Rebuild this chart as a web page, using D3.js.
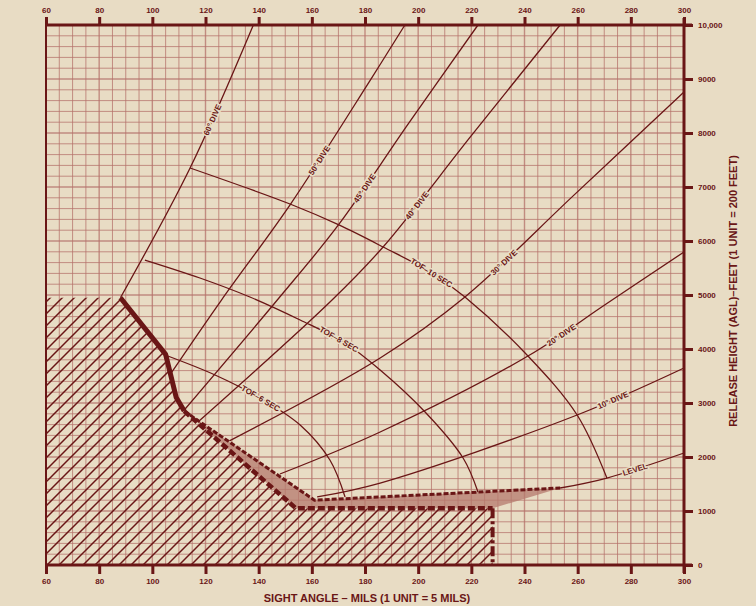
<!DOCTYPE html>
<html>
<head>
<meta charset="utf-8">
<script src="https://cdn.jsdelivr.net/npm/d3@7"></script>
<style>
  body { margin: 0; background: #e8dcc4; }
  svg { display: block; }
  text { font-family: "Liberation Sans", "DejaVu Sans", sans-serif; font-weight: bold; fill: #6a1616; }
</style>
</head>
<body>
<div id="chart"></div>
<script>
// sight angle (mils) / release height (feet)
var xTicks = [60, 80, 100, 120, 140, 160, 180, 200, 220, 240, 260, 280, 300];
var yTicks = [0, 1000, 2000, 3000, 4000, 5000, 6000, 7000, 8000, 9000, 10000];

var dive60 = [[88, 4950], [114.2, 7352], [138, 10000]];
var dive50 = [[106.6, 3520], [126, 4907], [152, 6685], [182, 8980], [195, 10000]];
var dive45 = [[112, 2870], [147, 4907], [170, 6297], [196, 8150], [222.5, 10000]];
var dive40 = [[118, 2685], [167.6, 4907], [186.8, 5889], [220, 7950], [253.4, 10000]];
var dive30 = [[129, 2300], [185.7, 3833], [217.6, 4963], [258.6, 6850], [300, 8760]];
var dive20 = [[148, 1685], [185.7, 2463], [241.3, 3870], [270.7, 4833], [300, 5797]];
var dive10 = [[162, 1260], [185.7, 1518], [259.8, 2778], [300, 3648]];
var level = [[253.4, 1426], [271, 1611], [300, 2074]];

var tof10 = [[114.2, 7352], [151.8, 6685], [170.2, 6297], [186.8, 5889], [204.5, 5426],
             [217.6, 4963], [241.3, 3870], [259.8, 2778], [271, 1611]];
var tof8 = [[97.2, 5648], [117.9, 5315], [136.7, 4963], [155.6, 4537], [172.5, 4111],
            [185.7, 3611], [202.6, 2833], [216.9, 1981], [222.5, 1352]];
var tof6 = [[104.8, 3889], [123.6, 3519], [140.5, 3093], [155.6, 2593], [166.8, 1944], [172.5, 1259]];

var minBoundary = [[88, 4950], [105, 3900], [109, 3100], [112, 2850]];
var bandUpper = [[112, 2850], [161, 1200], [253.4, 1426]];
var bandLower = [[112, 2850], [154, 1050], [228, 1050], [253.4, 1426]];
var hatchArea = [[60, 4950], [88, 4950], [105, 3900], [109, 3100], [112, 2850],
                 [154, 1050], [228, 1050], [228, 0], [60, 0]];

var diveNames = ["60° DIVE", "50° DIVE", "45° DIVE", "40° DIVE", "30° DIVE", "20° DIVE", "10° DIVE", "LEVEL"];
var tofNames = ["TOF–10 SEC", "TOF–8 SEC", "TOF–6 SEC"];

function init() {
    var width = 756;
    var height = 606;
    var ink = "#6a1616";
    var paper = "#e8dcc4";

    var x = d3.scaleLinear().domain([60, 300]).range([46, 684]);
    var y = d3.scaleLinear().domain([0, 10000]).range([565, 25]);

    var svg = d3.select("#chart")
        .append("svg")
        .attr("width", width)
        .attr("height", height);

    var defs = svg.append("defs");
    var pat = defs.append("pattern")
        .attr("id", "hatch")
        .attr("patternUnits", "userSpaceOnUse")
        .attr("width", 12)
        .attr("height", 12);
    pat.append("path")
        .attr("d", "M-3,3 L3,-3 M0,12 L12,0 M9,15 L15,9")
        .attr("stroke", ink)
        .attr("stroke-width", 1.5);

    // grid
    var grid = svg.append("g");
    grid.selectAll("line.v")
        .data(d3.range(60, 301, 5))
        .enter()
        .append("line")
        .attr("x1", d => x(d)).attr("x2", d => x(d))
        .attr("y1", y(0)).attr("y2", y(10000))
        .attr("stroke", "#b5716a")
        .attr("stroke-width", d => d % 20 === 0 ? 1.4 : 1)
        .attr("opacity", 0.75);
    grid.selectAll("line.h")
        .data(d3.range(0, 10001, 200))
        .enter()
        .append("line")
        .attr("y1", d => y(d)).attr("y2", d => y(d))
        .attr("x1", x(60)).attr("x2", x(300))
        .attr("stroke", "#b5716a")
        .attr("stroke-width", d => d % 1000 === 0 ? 1.4 : 1)
        .attr("opacity", 0.75);

    var line = d3.line().x(d => x(d[0])).y(d => y(d[1]));
    var curve = d3.line().x(d => x(d[0])).y(d => y(d[1])).curve(d3.curveCatmullRom.alpha(0.5));

    // hatched region below minimum release
    svg.append("path")
        .attr("d", line(hatchArea) + "Z")
        .attr("fill", "url(#hatch)");

    // shaded band
    svg.append("path")
        .attr("d", line(bandUpper.concat(bandLower.slice().reverse())) + "Z")
        .attr("fill", "#b67a6e")
        .attr("opacity", 0.75);

    // dive and tof curves
    var dives = [dive60, dive50, dive45, dive40, dive30, dive20, dive10, level];
    var tofs = [tof10, tof8, tof6];
    var diveT = [0.66, 0.62, 0.59, 0.57, 0.57, 0.68, 0.8, 0.6];
    var tofT = [0.49, 0.5, 0.44];

    var curves = svg.append("g");
    function drawCurve(pts, name, t) {
        var p = curves.append("path")
            .attr("d", curve(pts))
            .attr("fill", "none")
            .attr("stroke", ink)
            .attr("stroke-width", 1.3);
        var node = p.node();
        var len = node.getTotalLength();
        var a = node.getPointAtLength(len * t);
        var b = node.getPointAtLength(Math.min(len, len * t + 2));
        var c = node.getPointAtLength(Math.max(0, len * t - 2));
        var ang = Math.atan2(b.y - c.y, b.x - c.x) * 180 / Math.PI;
        if (ang > 90) ang -= 180;
        if (ang < -90) ang += 180;
        svg.append("text")
            .attr("transform", "translate(" + a.x + "," + a.y + ") rotate(" + ang + ")")
            .attr("text-anchor", "middle")
            .attr("dy", "0.35em")
            .attr("font-size", 8)
            .attr("stroke", paper)
            .attr("stroke-width", 3)
            .attr("paint-order", "stroke")
            .text(name);
    }
    dives.forEach((d, i) => drawCurve(d, diveNames[i], diveT[i]));
    tofs.forEach((d, i) => drawCurve(d, tofNames[i], tofT[i]));

    // boundary lines
    svg.append("path")
        .attr("d", line(minBoundary))
        .attr("fill", "none")
        .attr("stroke", ink)
        .attr("stroke-width", 5)
        .attr("stroke-linejoin", "round");
    svg.append("path")
        .attr("d", line(bandUpper))
        .attr("fill", "none")
        .attr("stroke", ink)
        .attr("stroke-width", 3)
        .attr("stroke-dasharray", "5,2");
    svg.append("path")
        .attr("d", line(bandLower.slice(0, 3)))
        .attr("fill", "none")
        .attr("stroke", ink)
        .attr("stroke-width", 4.5)
        .attr("stroke-dasharray", "7,3");
    svg.append("path")
        .attr("d", line([[228, 1050], [228, 0]]))
        .attr("fill", "none")
        .attr("stroke", ink)
        .attr("stroke-width", 4)
        .attr("stroke-dasharray", "10,3,3,3");

    // frame
    svg.append("line")
        .attr("x1", x(60)).attr("x2", x(60))
        .attr("y1", y(0)).attr("y2", y(10000))
        .attr("stroke", ink).attr("stroke-width", 2);

    function styleAxis(g) {
        g.select(".domain").remove();
        g.selectAll(".tick line").attr("stroke", ink).attr("stroke-width", 3);
        g.selectAll(".tick text").attr("font-size", 8).attr("fill", ink)
            .attr("font-family", "'Liberation Sans', sans-serif").attr("font-weight", "bold");
    }

    svg.append("g")
        .attr("transform", "translate(0," + y(10000) + ")")
        .call(d3.axisTop(x).tickValues(xTicks).tickSize(8).tickPadding(4))
        .call(styleAxis);
    svg.append("g")
        .attr("transform", "translate(0," + y(0) + ")")
        .call(d3.axisBottom(x).tickValues(xTicks).tickSize(9).tickPadding(4))
        .call(styleAxis);
    svg.append("g")
        .attr("transform", "translate(" + x(300) + ",0)")
        .call(d3.axisRight(y).tickValues(yTicks).tickSize(9).tickPadding(5)
            .tickFormat(d => d === 10000 ? "10,000" : d))
        .call(styleAxis);

    svg.append("line")
        .attr("x1", x(60)).attr("x2", x(300) + 8)
        .attr("y1", y(10000)).attr("y2", y(10000))
        .attr("stroke", ink).attr("stroke-width", 3);
    svg.append("line")
        .attr("x1", x(60)).attr("x2", x(300) + 8)
        .attr("y1", y(0)).attr("y2", y(0))
        .attr("stroke", ink).attr("stroke-width", 3);
    svg.append("line")
        .attr("x1", x(300)).attr("x2", x(300))
        .attr("y1", y(10000) - 7).attr("y2", y(0) + 8)
        .attr("stroke", ink).attr("stroke-width", 3);

    // titles
    svg.append("text")
        .attr("x", 367).attr("y", 602)
        .attr("text-anchor", "middle")
        .attr("font-size", 11)
        .text("SIGHT ANGLE – MILS (1 UNIT = 5 MILS)");
    svg.append("text")
        .attr("transform", "translate(737,291) rotate(-90)")
        .attr("text-anchor", "middle")
        .attr("font-size", 11)
        .text("RELEASE HEIGHT (AGL)–FEET (1 UNIT = 200 FEET)");
}

window.onload = init;
</script>
</body>
</html>
